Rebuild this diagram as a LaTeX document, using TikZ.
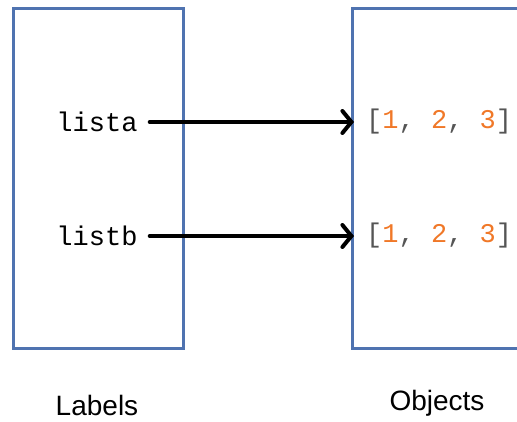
\documentclass[tikz,border=0pt]{standalone}
\usepackage{fontspec}
\setmainfont{Liberation Sans}
\newfontfamily\codefont{Liberation Mono}
\usetikzlibrary{arrows.meta}
\definecolor{frameblue}{RGB}{79,115,176}
\definecolor{numorange}{RGB}{240,120,40}
\definecolor{punctgray}{RGB}{85,85,85}
\tikzset{
  panel/.style={draw=frameblue, line width=3pt},
  codelabel/.style={font=\codefont\fontsize{27}{30}\selectfont, text=black, inner sep=0pt},
  objtext/.style={font=\codefont\fontsize{27}{30}\selectfont, inner sep=0pt, anchor=west},
  caption/.style={font=\fontsize{28}{32}\selectfont, text=black},
  ref/.style={line width=4pt, -{Straight Barb[length=9pt, width=22pt, line cap=round]}, line cap=round},
}
\newcommand{\pylist}{\textcolor{punctgray}{[}\textcolor{numorange}{1}\textcolor{punctgray}{, }\textcolor{numorange}{2}\textcolor{punctgray}{, }\textcolor{numorange}{3}\textcolor{punctgray}{]}}
\begin{document}
\begin{tikzpicture}[x=1pt, y=-1pt]
  \useasboundingbox (0,0) rectangle (517,421);
  \clip (0,0) rectangle (517,421);
  % the two frames
  \draw[panel] (13,8) rectangle (183,348);
  \draw[panel] (352.5,8) rectangle (540,348);
  % names
  \node[codelabel] (la) at (97,122) {lista};
  \node[codelabel] (lb) at (97,236) {listb};
  % objects
  \node[objtext] (oa) at (366,122) {\pylist};
  \node[objtext] (ob) at (366,236) {\pylist};
  \coordinate (ta) at (354,122);
  \coordinate (tb) at (354,236);
  % references
  \draw[ref] (la.east) ++(12,0) -- (ta);
  \draw[ref] (lb.east) ++(12,0) -- (tb);
  % captions
  \node[caption] (cl) at (97,405) {Labels};
  \node[caption] (co) at (437,403) {Objects};
\end{tikzpicture}
\end{document}
